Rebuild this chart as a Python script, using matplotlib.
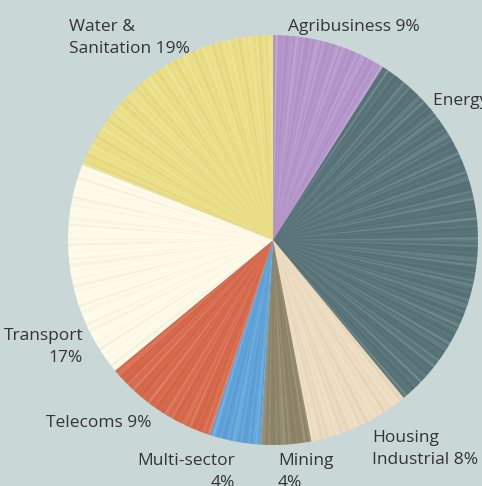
import numpy as np
import matplotlib
matplotlib.use("Agg")
import matplotlib.pyplot as plt
from matplotlib.patches import Wedge

# ---- data ----
sectors = ["Agribusiness", "Energy", "Housing Industrial", "Mining",
           "Multi-sector", "Telecoms", "Transport", "Water & Sanitation"]
shares = [9, 30, 8, 4, 4, 9, 17, 19]
labels = ["Agribusiness 9%", "Energy 30%", "Housing\nIndustrial 8%", "Mining\n4%",
          "Multi-sector\n4%", "Telecoms 9%", "Transport\n17%", "Water &\nSanitation 19%"]
colors = ["#b596cc", "#587479", "#eddcc0", "#8e8569",
          "#5ea3da", "#d8694b", "#fffbe8", "#ebdf86"]

# label anchor (pixel x, baseline y of first line, alignment)
label_pos = [(288, 31, "left"), (433, 105, "left"), (372, 442, "left"), (278, 465, "left"),
             (235, 465, "right"), (152, 427, "right"), (83, 340, "right"), (69, 31, "left")]

W, H = 482, 486
BG = "#c9d8d7"
fig = plt.figure(figsize=(W / 100, H / 100), dpi=100, facecolor=BG)
ax = fig.add_axes([0, 0, 1, 1])
ax.set_facecolor(BG)

cx, cy, R = 273, H - 240, 205
wedges, _ = ax.pie(shares, colors=colors, startangle=90, counterclock=False,
                   center=(cx, cy), radius=R,
                   wedgeprops=dict(linewidth=0))

# radial streak texture (decorative, deterministic)
for w in wedges:
    t1, t2 = w.theta1, w.theta2
    n = max(int((t2 - t1) / 0.7), 1)
    edges = np.linspace(t1, t2, n + 1)
    for k in range(n):
        v = np.sin(k * 2.3 + t1) * 0.6 + np.sin(k * 0.71 + 1.3) * 0.4
        if v > 0:
            c, a = "white", 0.16 * v
        else:
            c, a = "black", 0.045 * (-v)
        ax.add_patch(Wedge((cx, cy), R, edges[k], edges[k + 1],
                           facecolor=c, alpha=a, linewidth=0))

line_h = 22
for lab, (x, y, ha) in zip(labels, label_pos):
    for i, line in enumerate(lab.split("\n")):
        ax.text(x, H - (y + i * line_h), line, ha=ha, va="baseline",
                fontsize=12.5, color="#333333", family=["Open Sans", "DejaVu Sans"])

ax.set_xlim(0, W)
ax.set_ylim(0, H)
ax.set_aspect("equal")
ax.axis("off")
fig.savefig("out.png", dpi=100, facecolor=BG)
